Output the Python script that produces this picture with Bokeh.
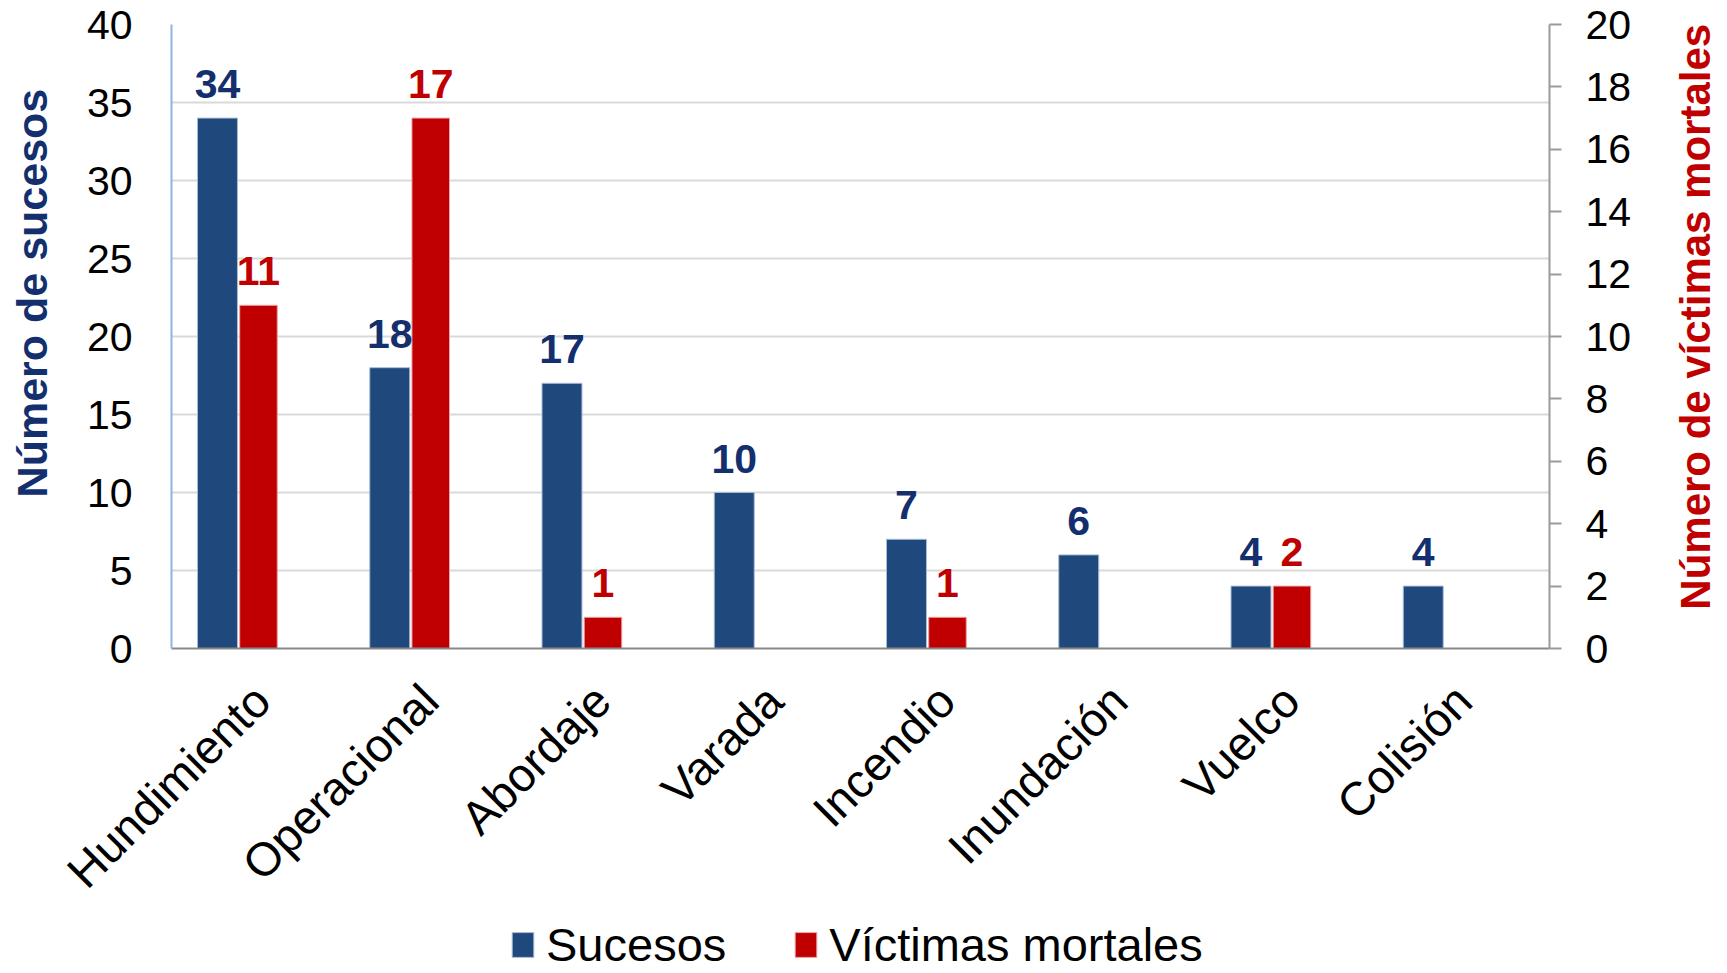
import math
from bokeh.plotting import figure
from bokeh.layouts import column, row
from bokeh.models import (ColumnDataSource, Range1d, LinearAxis, FixedTicker,
                          FactorRange, LabelSet, Legend, LegendItem)
from bokeh.transform import dodge
from bokeh.core.properties import value
from bokeh.embed import file_html
from bokeh.resources import INLINE

categories = ["Hundimiento", "Operacional", "Abordaje", "Varada",
              "Incendio", "Inundación", "Vuelco", "Colisión"]
sucesos = [34, 18, 17, 10, 7, 6, 4, 4]
victimas = [11, 17, 1, 0, 1, 0, 2, 0]
left_ticks = [0, 5, 10, 15, 20, 25, 30, 35, 40]
right_ticks = [0, 2, 4, 6, 8, 10, 12, 14, 16, 18, 20]
series_names = ["Sucesos", "Víctimas mortales"]
left_title = "Número de sucesos"
right_title = "Número de víctimas mortales"

FONT = "Liberation Sans"
BLUE = "#1F497D"
RED = "#C00000"
NAVY_TXT = "#132F6E"

H = 919          # height of the chart row
TOP, FRAME_H = 24, 632

p = figure(width=1614, height=H, x_range=FactorRange(factors=categories),
           y_range=Range1d(0, 40), output_backend="svg", toolbar_location=None,
           min_border_left=115, min_border_right=121, min_border_top=TOP,
           min_border_bottom=H - TOP - FRAME_H)
p.outline_line_color = None
p.xgrid.visible = False
p.ygrid.grid_line_color = "#D9D9D9"
p.ygrid.grid_line_width = 2

# left axis
la = p.yaxis[0]
la.ticker = FixedTicker(ticks=left_ticks)
la.major_label_text_font = FONT
la.major_label_text_font_size = "41px"
la.major_label_text_color = "#000000"
la.major_tick_line_color = None
la.minor_tick_line_color = None
la.axis_line_color = "#8EB4E3"
la.axis_line_width = 2
la.major_label_standoff = 33

# right axis
p.extra_y_ranges = {"right": Range1d(0, 20)}
ra = LinearAxis(y_range_name="right", ticker=FixedTicker(ticks=right_ticks))
ra.major_label_text_font = FONT
ra.major_label_text_font_size = "41px"
ra.major_label_text_color = "#000000"
ra.major_tick_out = 12
ra.major_tick_in = 0
ra.major_tick_line_color = "#9A9A9A"
ra.major_tick_line_width = 2
ra.minor_tick_line_color = None
ra.axis_line_color = "#9A9A9A"
ra.axis_line_width = 2
ra.major_label_standoff = 24
p.add_layout(ra, "right")

# x axis
xa = p.xaxis[0]
xa.major_label_orientation = math.pi / 4
xa.major_label_text_font = FONT
xa.major_label_text_font_size = "47px"
xa.major_label_text_color = "#000000"
xa.major_tick_line_color = None
xa.axis_line_color = "#898989"
xa.axis_line_width = 2
xa.major_label_standoff = 38

src_b = ColumnDataSource(dict(cat=categories, val=sucesos,
                              lab=[str(v) for v in sucesos]))
r_cats = [c for c, v in zip(categories, victimas) if v > 0]
r_vals = [v for v in victimas if v > 0]
src_r = ColumnDataSource(dict(cat=r_cats, val=r_vals, lab=[str(v) for v in r_vals]))

rb = p.vbar(x=dodge("cat", -0.233, range=p.x_range), top="val", width=0.232,
            source=src_b, fill_color=BLUE, line_color="#A9BAD6", line_width=1)
rr = p.vbar(x=dodge("cat", 0.005, range=p.x_range), top="val", width=0.218,
            source=src_r, y_range_name="right", fill_color=RED,
            line_color="#EBA3A3", line_width=1)

lb = LabelSet(x=dodge("cat", -0.233, range=p.x_range), y="val", text="lab",
              source=src_b, text_align="center", text_baseline="alphabetic",
              y_offset=20, text_font=value(FONT), text_font_size=value("41px"),
              text_font_style="bold", text_color=NAVY_TXT)
lr = LabelSet(x=dodge("cat", 0.005, range=p.x_range), y="val", text="lab",
              source=src_r, y_range_name="right", text_align="center",
              text_baseline="alphabetic", y_offset=20, text_font=value(FONT),
              text_font_size=value("41px"), text_font_style="bold",
              text_color=RED)
p.add_layout(lb)
p.add_layout(lr)


def side_title(width, text, xpos, page_y, color, size):
    # side panels share the chart frame's vertical extent (row alignment)
    f = figure(width=width, height=H, x_range=Range1d(0, width),
               y_range=Range1d(0, FRAME_H), x_axis_type=None, y_axis_type=None,
               output_backend="svg", toolbar_location=None, min_border=0)
    f.outline_line_color = None
    f.grid.visible = False
    f.text(x=[xpos], y=[TOP + FRAME_H - page_y], text=[text], angle=math.pi / 2,
           text_align="center", text_baseline="middle",
           text_font=value(FONT), text_font_size=value(size),
           text_font_style="bold", text_color=color)
    return f


ltf = side_title(56, left_title, 31, 296, NAVY_TXT, "43px")
rtf = side_title(52, right_title, 25, 320, RED, "42px")

# legend strip below the chart
lf = figure(width=1722, height=973 - H, x_range=Range1d(0, 1),
            y_range=Range1d(0, 1), x_axis_type=None, y_axis_type=None,
            output_backend="svg", toolbar_location=None, min_border=0)
lf.grid.visible = False
lf.outline_line_color = None
gb = lf.vbar(x=[-5], top=[-5], width=0.1, fill_color=BLUE, line_color="#A9BAD6")
gr = lf.vbar(x=[-5], top=[-5], width=0.1, fill_color=RED, line_color="#EBA3A3")
legend = Legend(items=[LegendItem(label=series_names[0], renderers=[gb]),
                       LegendItem(label=series_names[1], renderers=[gr])],
                location=(509, 1), orientation="horizontal",
                glyph_width=27, glyph_height=31, label_standoff=10, spacing=66,
                padding=0, margin=0, border_line_color=None,
                background_fill_alpha=0, label_text_font=FONT,
                label_text_font_size="47px", label_height=31,
                label_text_color="#000000")
lf.add_layout(legend)

layout = column(row(ltf, p, rtf, spacing=0), lf, spacing=0)
open("out.html", "w").write(file_html(layout, INLINE))
